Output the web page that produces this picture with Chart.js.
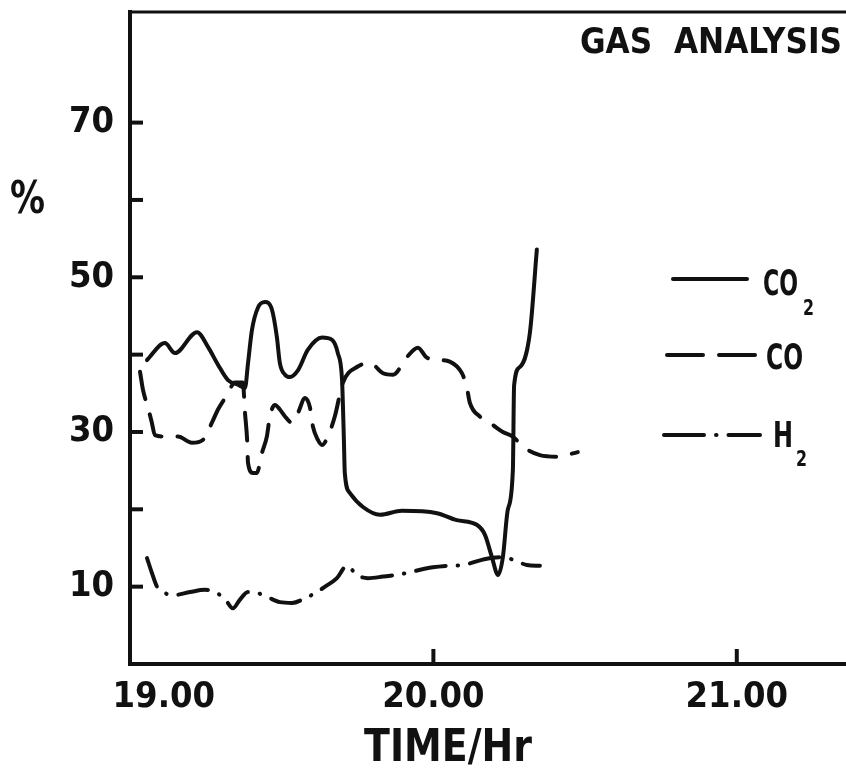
<!DOCTYPE html>
<html><head><meta charset="utf-8">
<script src="https://cdn.jsdelivr.net/npm/chart.js@4.4.1/dist/chart.umd.min.js"></script>
<style>html,body{margin:0;padding:0;background:#fff;}canvas{display:block;}</style>
</head><body>
<canvas id="c" width="846" height="769"></canvas>
<script>
// ---- data (time in decimal hours, values in %) ----
const co2Time = [19.056, 19.115, 19.148, 19.221, 19.257, 19.290, 19.323, 19.356, 19.379, 19.389, 19.402, 19.422, 19.445, 19.468, 19.484, 19.494, 19.511, 19.527, 19.554, 19.586, 19.633, 19.666, 19.685, 19.699, 19.702, 19.705, 19.708, 19.725, 19.768, 19.824, 19.896, 20.012, 20.077, 20.143, 20.170, 20.193, 20.213, 20.229, 20.245, 20.262, 20.266, 20.285, 20.318, 20.341];
const co2Values = [39.3, 41.5, 40.2, 42.9, 41.0, 38.7, 36.7, 36.1, 35.7, 38.9, 43.2, 46.1, 46.8, 45.8, 42.3, 38.9, 37.4, 37.1, 38.0, 40.6, 42.2, 41.9, 40.2, 36.7, 33.2, 29.0, 24.7, 22.1, 20.3, 19.3, 19.8, 19.5, 18.6, 18.0, 16.7, 13.8, 11.5, 13.8, 19.9, 25.1, 36.0, 38.4, 42.8, 53.6];

const coTime = [19.033, 19.043, 19.059, 19.072, 19.082, 19.125, 19.158, 19.204, 19.241, 19.270, 19.290, 19.320, 19.346, 19.372, 19.379, 19.386, 19.389, 19.405, 19.418, 19.435, 19.451, 19.461, 19.478, 19.494, 19.511, 19.534, 19.554, 19.577, 19.593, 19.603, 19.619, 19.633, 19.652, 19.675, 19.702, 19.748, 19.791, 19.834, 19.867, 19.913, 19.949, 19.979, 20.021, 20.054, 20.094, 20.110, 20.120, 20.153, 20.196, 20.229, 20.262, 20.295, 20.351, 20.407, 20.476];
const coValues = [37.8, 35.4, 33.2, 31.2, 29.6, 29.4, 29.4, 28.6, 29.0, 31.2, 32.9, 34.8, 36.4, 36.4, 32.5, 29.0, 26.0, 24.7, 24.7, 27.3, 29.4, 32.0, 33.5, 32.9, 32.0, 31.2, 32.5, 34.4, 33.2, 30.7, 29.0, 28.3, 29.4, 32.0, 36.4, 38.4, 38.9, 37.6, 37.4, 39.7, 40.9, 39.6, 39.3, 39.1, 37.6, 35.8, 33.8, 32.0, 30.9, 30.0, 29.4, 28.1, 27.0, 26.8, 27.4];

const h2Time = [19.056, 19.072, 19.089, 19.109, 19.142, 19.198, 19.247, 19.280, 19.313, 19.339, 19.362, 19.389, 19.418, 19.451, 19.494, 19.534, 19.577, 19.616, 19.643, 19.682, 19.715, 19.748, 19.784, 19.834, 19.890, 19.998, 20.048, 20.097, 20.163, 20.219, 20.262, 20.308, 20.351];
const h2Values = [13.7, 11.8, 10.0, 9.3, 8.9, 9.3, 9.6, 9.3, 8.4, 7.2, 8.3, 9.3, 9.2, 8.7, 8.0, 7.9, 8.5, 9.3, 10.0, 11.1, 12.7, 11.5, 11.1, 11.3, 11.6, 12.5, 12.7, 12.8, 13.5, 13.8, 13.5, 12.8, 12.7];

const seriesNames = ['CO2', 'CO', 'H2'];
const xTickValues = [19, 20, 21];
const xTickLabels = ['19.00', '20.00', '21.00'];
const yLabelledTicks = [10, 30, 50, 70];
const chartTitle = 'GAS  ANALYSIS';
const xAxisTitle = 'TIME/Hr';
const yAxisTitle = '%';

// ---- styling ----
const FONT = '"DejaVu Sans Condensed", "DejaVu Sans", sans-serif';
const INK = '#111';

function pts(t, v) { return t.map((x, i) => ({ x: x, y: v[i] })); }

function drawText(ctx, str, x, baseline, size, width) {
  ctx.save();
  ctx.font = 'bold ' + size + 'px ' + FONT;
  const w = ctx.measureText(str).width;
  const sx = width ? width / w : 1;
  ctx.translate(x, baseline);
  ctx.scale(sx, 1);
  ctx.textAlign = 'left';
  ctx.textBaseline = 'alphabetic';
  ctx.fillStyle = INK;
  ctx.fillText(str, 0, 0);
  ctx.restore();
}

const decor = {
  id: 'decor',
  afterDraw(chart) {
    const ctx = chart.ctx;
    const a = chart.chartArea;
    const xs = chart.scales.x, ys = chart.scales.y;
    ctx.save();
    ctx.strokeStyle = INK;
    ctx.lineCap = 'butt';
    // top frame line
    ctx.lineWidth = 3;
    ctx.beginPath(); ctx.moveTo(a.left - 2, a.top); ctx.lineTo(a.right, a.top); ctx.stroke();
    // inward tick marks on y
    ctx.lineWidth = 4;
    ys.ticks.forEach(t => {
      if (t.value <= 0 || t.value > 75) return;
      const y = ys.getPixelForValue(t.value);
      ctx.beginPath(); ctx.moveTo(a.left, y); ctx.lineTo(a.left + 13, y); ctx.stroke();
    });
    // inward tick marks on x
    xs.ticks.forEach(t => {
      if (t.value <= xs.min) return;
      const x = xs.getPixelForValue(t.value);
      ctx.beginPath(); ctx.moveTo(x, a.bottom); ctx.lineTo(x, a.bottom - 15); ctx.stroke();
    });
    ctx.restore();

    // titles
    drawText(ctx, chartTitle, 580, 53, 36, 262);
    drawText(ctx, yAxisTitle, 10, 213, 44, 35);
    drawText(ctx, xAxisTitle, 364, 761, 44, 168);

    // legend
    const items = [
      { y: 279, x0: 673, x1: 747, dash: [], tx: 763, tb: 295, tw: 35, sx: 803, sb: 315 },
      { y: 355, x0: 667, x1: 757, dash: [36, 16], tx: 766, tb: 369, tw: 37, sx: 0, sb: 0 },
      { y: 435, x0: 664, x1: 760, dash: [40, 12, 0.5, 12], tx: 773, tb: 447, tw: 20, sx: 796, sb: 466 }
    ];
    chart.data.datasets.forEach((ds, i) => {
      const it = items[i];
      ctx.save();
      ctx.strokeStyle = INK;
      ctx.lineWidth = ds.borderWidth;
      ctx.lineCap = 'round';
      ctx.setLineDash(it.dash);
      ctx.beginPath(); ctx.moveTo(it.x0, it.y); ctx.lineTo(it.x1, it.y); ctx.stroke();
      ctx.restore();
      const m = ds.label.match(/^([A-Za-z]+)(\d*)$/);
      drawText(ctx, m[1], it.tx, it.tb, 36, it.tw);
      if (m[2]) drawText(ctx, m[2], it.sx, it.sb, 22, 11);
    });
  }
};

new Chart(document.getElementById('c'), {
  type: 'line',
  data: {
    datasets: [
      { label: seriesNames[0], data: pts(co2Time, co2Values), borderColor: INK, borderWidth: 4,
        borderDash: [], borderCapStyle: 'round', borderJoinStyle: 'round',
        pointRadius: 0, fill: false, cubicInterpolationMode: 'monotone' },
      { label: seriesNames[1], data: pts(coTime, coValues), borderColor: INK, borderWidth: 4,
        borderDash: [28, 16], borderCapStyle: 'round', borderJoinStyle: 'round',
        pointRadius: 0, fill: false, cubicInterpolationMode: 'monotone' },
      { label: seriesNames[2], data: pts(h2Time, h2Values), borderColor: INK, borderWidth: 4,
        borderDash: [30, 12, 0.5, 12], borderCapStyle: 'round', borderJoinStyle: 'round',
        pointRadius: 0, fill: false, cubicInterpolationMode: 'monotone' }
    ]
  },
  options: {
    responsive: false,
    animation: false,
    devicePixelRatio: 1,
    layout: { padding: { top: 12, right: 0, left: 0, bottom: 0 } },
    plugins: { legend: { display: false }, tooltip: { enabled: false }, title: { display: false } },
    scales: {
      x: {
        type: 'linear', min: 19, max: 21.36,
        afterFit(s) { s.height = 105; s.paddingLeft = 0; s.paddingRight = 0; },
        afterBuildTicks(s) { s.ticks = xTickValues.map(v => ({ value: v })); },
        grid: { display: false, drawTicks: false },
        border: { display: true, color: INK, width: 4 },
        ticks: {
          padding: 12, color: INK, maxRotation: 0, autoSkip: false,
          font: { family: FONT, size: 36, weight: 'bold' },
          callback(v) {
            const i = xTickValues.indexOf(v);
            const lab = i >= 0 ? xTickLabels[i] : '';
            return v === 19 ? '\u00a0\u00a0\u00a0\u00a0\u00a0\u00a0' + lab : lab;
          }
        }
      },
      y: {
        type: 'linear', min: 0, max: 84.3,
        afterFit(s) { s.width = 130; s.paddingTop = 0; s.paddingBottom = 0; },
        grid: { display: false, drawTicks: false },
        border: { display: true, color: INK, width: 4 },
        ticks: {
          stepSize: 10, includeBounds: false, padding: 16, color: INK,
          font: { family: FONT, size: 36, weight: 'bold' },
          callback(v) { return yLabelledTicks.includes(v) ? String(v) : ''; }
        }
      }
    }
  },
  plugins: [decor]
});
</script>
</body></html>
